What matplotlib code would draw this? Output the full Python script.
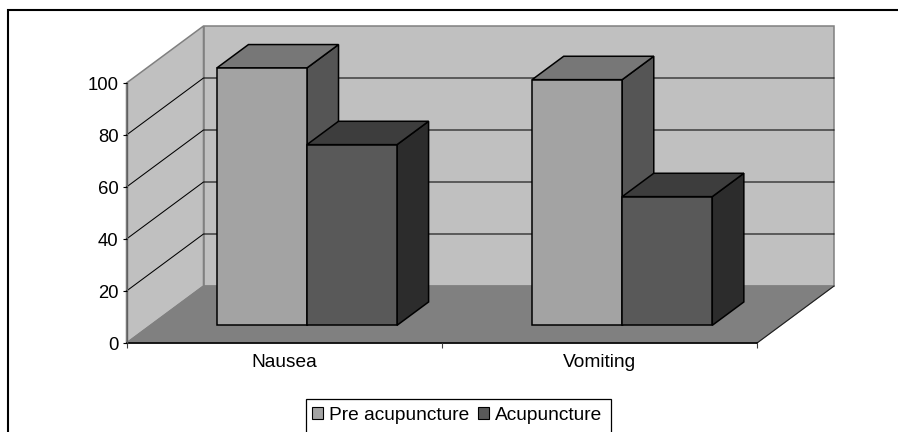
import matplotlib
matplotlib.use('Agg')
import matplotlib.pyplot as plt
from matplotlib.patches import Rectangle
from matplotlib.lines import Line2D

plt.rcParams['font.family'] = 'Liberation Sans'

categories = ['Nausea', 'Vomiting']
series_names = ['Pre acupuncture', 'Acupuncture']
pre_acupuncture = [99, 94.5]
acupuncture = [69.5, 49.5]
yticks = [0, 20, 40, 60, 80, 100]

W, H = 898, 432
# pixel box of the front plane of the chart
X0, X1, Y0, Y1 = 126.5, 757, 343, 83
# oblique depth, in data units
DX = 77.0 / ((X1 - X0) / 2)
DY = 57.0 / ((Y0 - Y1) / 100)
BAR_D0, BAR_D1 = 0.31, 0.72
BAR_LEFT, BAR_W = 0.211, 0.2857

def proj(x, v, d):
    return x + d * DX, v + d * DY

def face(ax, pts, color, edge, lw=1.0, z=1):
    xs = [p[0] for p in pts]
    ys = [p[1] for p in pts]
    ax.fill(xs, ys, facecolor=color, edgecolor=edge, linewidth=lw, zorder=z,
            clip_on=False, joinstyle='miter')

def box(ax, x, w, v, front, top, side, z):
    d0, d1 = BAR_D0, BAR_D1
    face(ax, [proj(x + w, 0, d0), proj(x + w, 0, d1), proj(x + w, v, d1), proj(x + w, v, d0)], side, 'black', 1.1, z)
    face(ax, [proj(x, v, d0), proj(x + w, v, d0), proj(x + w, v, d1), proj(x, v, d1)], top, 'black', 1.1, z)
    face(ax, [proj(x, 0, d0), proj(x + w, 0, d0), proj(x + w, v, d0), proj(x, v, d0)], front, 'black', 1.1, z + 0.5)

fig = plt.figure(figsize=(W / 100, H / 100), dpi=100)
ax = fig.add_axes([X0 / W, 1 - Y0 / H, (X1 - X0) / W, (Y0 - Y1) / H])
ax.set_xlim(0, 2)
ax.set_ylim(0, 100)
ax.patch.set_visible(False)
for s in ax.spines.values():
    s.set_visible(False)

# walls and floor
face(ax, [proj(0, 0, 1), proj(2, 0, 1), proj(2, 100, 1), proj(0, 100, 1)], '#C0C0C0', '#808080', 1.1, 0)
face(ax, [proj(0, 0, 0), proj(0, 0, 1), proj(0, 100, 1), proj(0, 100, 0)], '#C0C0C0', '#808080', 1.1, 0)
face(ax, [proj(0, 0, 0), proj(2, 0, 0), proj(2, 0, 1), proj(0, 0, 1)], '#808080', '#808080', 0.8, 0.5)

# gridlines on left wall and back wall
for t in yticks[1:-1]:
    a = proj(0, t, 0)
    b = proj(0, t, 1)
    c = proj(2, t, 1)
    ax.plot([a[0], b[0], c[0]], [a[1], b[1], c[1]], color='black', lw=0.75, zorder=0.7, clip_on=False)

# front and right edge of floor
a = proj(2, 0, 0)
b = proj(2, 0, 1)
ax.plot([a[0], b[0]], [a[1], b[1]], color='#202020', lw=0.8, zorder=0.8, clip_on=False)
ax.plot([0, 2], [0, 0], color='black', lw=1.2, zorder=0.9, clip_on=False)
ax.plot([0, 0], [0, 100], color='#606060', lw=1.0, zorder=0.9, clip_on=False)

for i in range(len(categories)):
    x = i + BAR_LEFT
    box(ax, x, BAR_W, pre_acupuncture[i], '#A3A3A3', '#777777', '#555555', 2)
    box(ax, x + BAR_W, BAR_W, acupuncture[i], '#595959', '#3D3D3D', '#2C2C2C', 3)

ax.set_yticks(yticks)
ax.set_xticks([0, 1, 2])
ax.set_xticklabels([])
ax.set_xticks([0.5, 1.5], minor=True)
ax.set_xticklabels(categories, minor=True)
ax.tick_params(axis='x', which='minor', length=0, labelsize=13.8, pad=8, labelcolor='black')
ax.tick_params(axis='x', which='major', length=3.6, width=0.8, color='#404040')
ax.tick_params(axis='y', length=3, width=0.8, labelsize=13.3, pad=2.8, color='black')

# outer chart frame, cut off on the right and at the bottom
fig.add_artist(Line2D([8 / W, 8 / W, 1], [0, 1 - 10 / H, 1 - 10 / H], color='black', lw=1.5,
                      transform=fig.transFigure, solid_joinstyle='miter'))

# legend box runs past the bottom of the image
fig.add_artist(Rectangle((306 / W, -10 / H), 305 / W, (H - 399 + 10) / H, transform=fig.transFigure,
                         facecolor='white', edgecolor='black', linewidth=0.9))
handles = [Rectangle((0, 0), 1, 1, facecolor='#A3A3A3', edgecolor='black', linewidth=0.8),
           Rectangle((0, 0), 1, 1, facecolor='#595959', edgecolor='black', linewidth=0.8)]
fig.legend(handles, series_names, loc='center left', bbox_to_anchor=(308 / W, 1 - 415.5 / H), ncol=2,
           frameon=False, fontsize=13.8, handlelength=0.6, handleheight=0.6, handletextpad=0.3,
           columnspacing=0.45, borderpad=0, borderaxespad=0.2)

fig.savefig('out.png', dpi=100)
